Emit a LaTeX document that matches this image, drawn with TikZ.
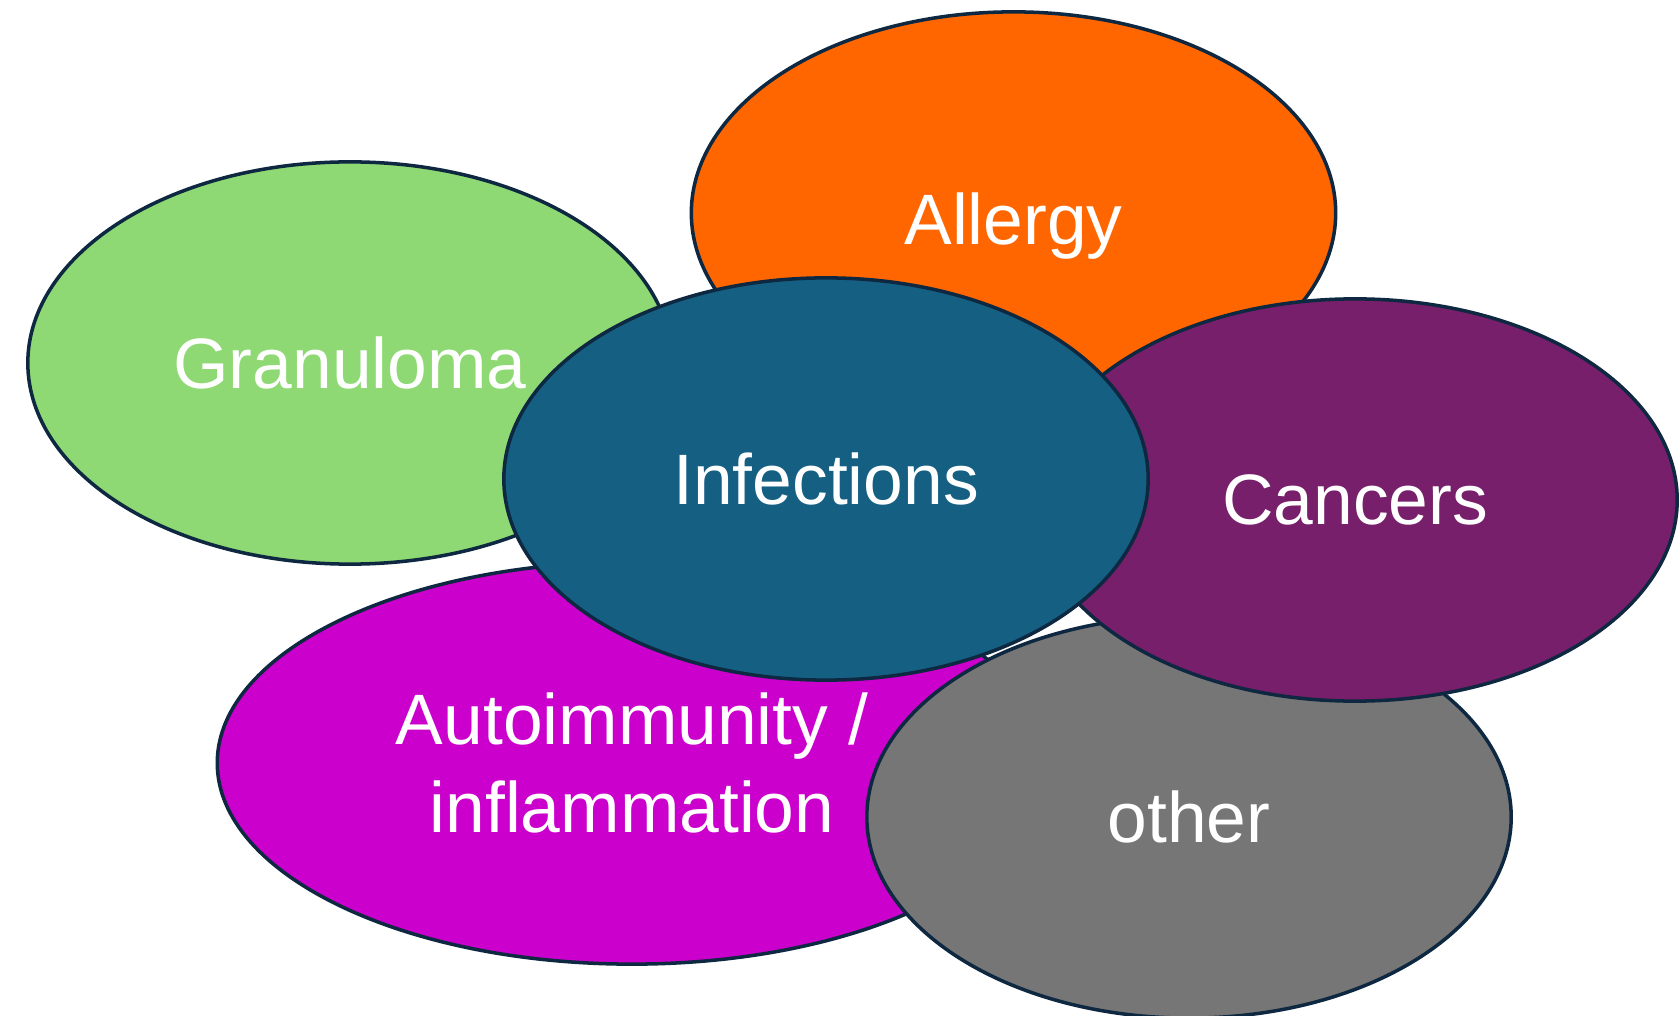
\documentclass[tikz,border=0pt]{standalone}
\usepackage{fontspec}
\setmainfont{Liberation Sans}
\usetikzlibrary{shapes.geometric}
\definecolor{outline}{HTML}{0E2841}
\definecolor{granulomagreen}{HTML}{8ED973}
\definecolor{allergyorange}{HTML}{FF6600}
\definecolor{infectionblue}{HTML}{156082}
\definecolor{cancerpurple}{HTML}{771F6B}
\definecolor{autoimmunemagenta}{HTML}{CC00CC}
\definecolor{othergrey}{HTML}{767676}
\begin{document}
\begin{tikzpicture}[x=0.01cm, y=-0.01cm]
    \tikzstyle{blob_style} = [ellipse, draw=outline, line width=1pt, inner sep=0pt,
        minimum width=6.44cm, minimum height=4.02cm, text=white,
        font=\fontsize{20.3}{25}\selectfont, align=center]
    \useasboundingbox (0,0) rectangle (1680,1016);

    \node[blob_style, fill=granulomagreen] (granuloma) at (350,363) {Granuloma};
    \node[blob_style, fill=allergyorange] (allergy) at (1013.5,213) {\raisebox{-0.13cm}[\height][\depth]{Allergy}};
    \node[blob_style, fill=autoimmunemagenta, minimum width=8.29cm] (autoimmunity) at (632,763) {Autoimmunity /\\inflammation};
    \node[blob_style, fill=othergrey] (other) at (1189,817) {other};
    \node[blob_style, fill=cancerpurple] (cancers) at (1355,500) {Cancers};
    \node[blob_style, fill=infectionblue] (infections) at (826,479) {Infections};
\end{tikzpicture}
\end{document}
